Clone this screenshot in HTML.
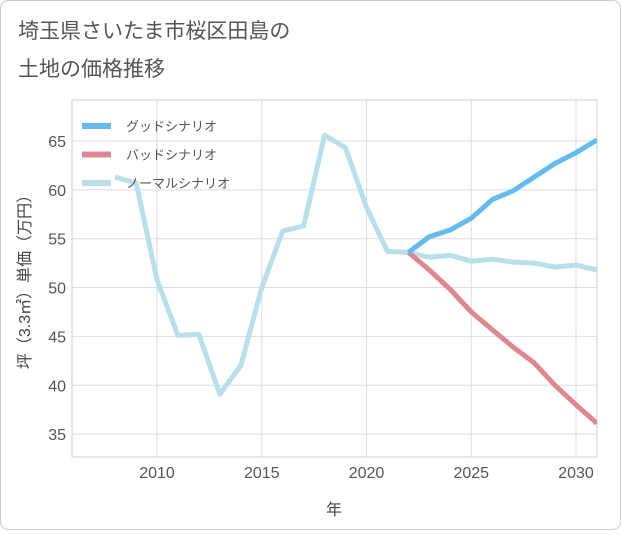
<!DOCTYPE html>
<html><head><meta charset="utf-8"><style>
body{margin:0;background:#fff;font-family:"Liberation Sans","Noto Sans CJK JP",sans-serif;}
#wrap{position:relative;width:621px;height:530px;}
</style></head><body>
<div id="wrap">
<svg id="chart" width="621" height="530" font-family="Liberation Sans, Noto Sans CJK JP, sans-serif">
<rect x="0.5" y="0.5" width="620" height="529" rx="8" fill="#fff" stroke="#ccc"/>
<text x="18" y="38" font-size="21" fill="#555">埼玉県さいたま市桜区田島の</text>
<text x="18" y="76" font-size="21" fill="#555">土地の価格推移</text>
<g id="grid"></g>
<g id="lines"></g>
<g id="legend"></g>
<text x="334" y="515" font-size="16" fill="#444" text-anchor="middle">年</text>
<text transform="translate(30,278) rotate(-90)" font-size="16" fill="#444" text-anchor="middle">坪（3.3㎡）単価（万円）</text>
</svg>
</div>
<script>
const years=[2008,2009,2010,2011,2012,2013,2014,2015,2016,2017,2018,2019,2020,2021,2022,2023,2024,2025,2026,2027,2028,2029,2030,2031];
const normalValues=[61.3,60.7,50.8,45.1,45.2,39.1,42.0,50.0,55.8,56.3,65.6,64.3,58.2,53.7,53.6,53.1,53.3,52.7,52.9,52.6,52.5,52.1,52.3,51.8];
const scenarioYears=[2022,2023,2024,2025,2026,2027,2028,2029,2030,2031];
const goodValues=[53.6,55.2,55.9,57.1,59.0,59.9,61.3,62.7,63.8,65.1];
const badValues=[53.6,51.8,49.8,47.5,45.7,43.9,42.3,40.0,38.0,36.1];
const xTicks=[2010,2015,2020,2025,2030];
const yTicks=[35,40,45,50,55,60,65];
const legendLabels=["グッドシナリオ","バッドシナリオ","ノーマルシナリオ"];
const L=72,R=597,T=100,B=457;
const x=v=>157+(v-2010)*20.95;
const y=v=>141+(65-v)*9.77;
const NS="http://www.w3.org/2000/svg";
function mk(tag,attrs,parent){const e=document.createElementNS(NS,tag);for(const k in attrs)e.setAttribute(k,attrs[k]);parent.appendChild(e);return e;}
const grid=document.getElementById('grid');
const bg=mk('rect',{x:L,y:T,width:R-L,height:B-T,fill:'#fff',stroke:'#c8d0d8'},grid);


yTicks.forEach(t=>{
 const l=mk('line',{x1:L,x2:R,y1:y(t),y2:y(t),stroke:'#d6dee6'},grid);
 
 
 const tx=mk('text',{x:L-6,y:y(t)+6,'font-size':16,fill:'#555','text-anchor':'end'},grid);
 tx.textContent=t;
 
 
});
xTicks.forEach(t=>{
 const l=mk('line',{x1:x(t),x2:x(t),y1:T,y2:B,stroke:'#d6dee6'},grid);
 
 
 const tx=mk('text',{x:x(t),y:B+21,'font-size':16,fill:'#555','text-anchor':'middle'},grid);
 tx.textContent=t;
 
 
});
const lines=document.getElementById('lines');
function path(xs,vs,color,name){
 const d=xs.map((yr,i)=>(i?'L':'M')+x(yr).toFixed(1)+','+y(vs[i]).toFixed(1)).join(' ');
 const p=mk('path',{d:d,fill:'none',stroke:color,'stroke-width':5,'stroke-linejoin':'round'},lines);
 
 
}
const clip=mk('clipPath',{id:'c'},document.getElementById('chart'));
mk('rect',{x:L,y:T,width:R-L,height:B-T},clip);
lines.setAttribute('clip-path','url(#c)');
path(years,normalValues,'#b9dfeb','normal-scenario-line');
path(scenarioYears,badValues,'#dd8890','bad-scenario-line');
path(scenarioYears,goodValues,'#66bbee','good-scenario-line');
const colors=['#66bbee','#dd8890','#b9dfeb'];
const lg=document.getElementById('legend');
legendLabels.forEach((lab,i)=>{
 const yy=126+i*28.5;
 const sw=mk('line',{x1:82,x2:111,y1:yy,y2:yy,stroke:colors[i],'stroke-width':6},lg);
 
 
 const tx=mk('text',{x:126,y:yy+5,'font-size':13,fill:'#555'},lg);
 tx.textContent=lab;
 
 
});
</script>
</body></html>
